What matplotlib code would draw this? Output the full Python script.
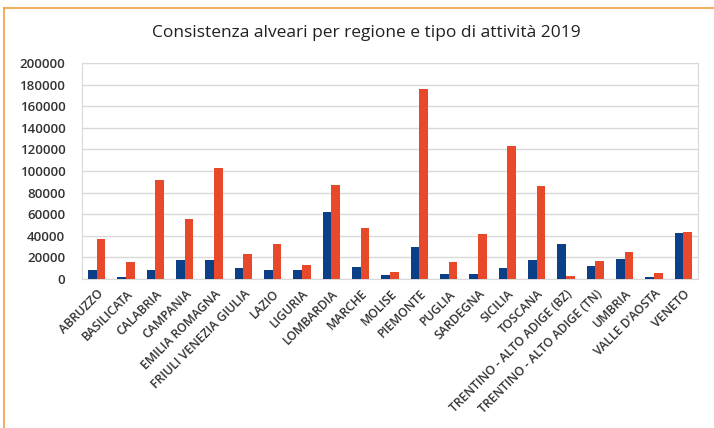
import matplotlib.pyplot as plt
import numpy as np
from matplotlib.lines import Line2D

regioni = ["ABRUZZO", "BASILICATA", "CALABRIA", "CAMPANIA", "EMILIA ROMAGNA",
           "FRIULI VENEZIA GIULIA", "LAZIO", "LIGURIA", "LOMBARDIA", "MARCHE",
           "MOLISE", "PIEMONTE", "PUGLIA", "SARDEGNA", "SICILIA", "TOSCANA",
           "TRENTINO - ALTO ADIGE (BZ)", "TRENTINO - ALTO ADIGE (TN)",
           "UMBRIA", "VALLE D'AOSTA", "VENETO"]
# serie blu e serie arancione
blu = [8600, 1500, 8000, 17300, 17300, 10500, 8000, 8600, 62300, 11000,
       3400, 30000, 4600, 4600, 10200, 18000, 32400, 12300, 18800, 1900, 43000]
arancio = [37000, 16000, 92000, 55500, 103000, 23000, 32000, 12700, 87300, 47500,
           6500, 176000, 15700, 42000, 123000, 86000, 3000, 16400, 24700, 5900, 43200]
yticks = list(range(0, 200001, 20000))

plt.rcParams['font.family'] = ['Open Sans', 'DejaVu Sans']

fig = plt.figure(figsize=(7.14, 4.28), dpi=100)
ax = fig.add_axes([82/714, 1 - 279/428, 616/714, 216/428])

x = np.arange(len(regioni))
w = 0.29
ax.bar(x - w/2, blu, width=w, color='#0b4088', zorder=3)
ax.bar(x + w/2, arancio, width=w, color='#e8492a', zorder=3)

ax.set_xlim(-0.5, len(regioni) - 0.5)
ax.set_ylim(0, 200000)
ax.set_yticks(yticks)
ax.set_yticklabels([str(v) for v in yticks], fontsize=9.5, color='#333333',
                   fontweight='semibold')
ax.set_xticks(x)
ax.set_xticklabels(regioni, rotation=45, ha='right', rotation_mode='anchor',
                   fontsize=8.8, color='#333333', fontweight='semibold')
ax.tick_params(axis='y', length=0, pad=12)
ax.tick_params(axis='x', length=0, pad=6)
ax.grid(axis='y', color='#d9d9d9', linewidth=1, zorder=0)
for s in ax.spines.values():
    s.set_color('#d9d9d9')

fig.text(366/714, 1 - 33/428, "Consistenza alveari per regione e tipo di attività 2019",
         ha='center', va='center', fontsize=12.5, color='#202020')

# cornice arancione
fig.add_artist(Line2D([4/714, 1], [1 - 8/428, 1 - 8/428], color='#f0a040', lw=1.2))
fig.add_artist(Line2D([4/714, 4/714], [0, 1 - 8/428], color='#f0a040', lw=1.2))

fig.savefig('out.png', dpi=100)
